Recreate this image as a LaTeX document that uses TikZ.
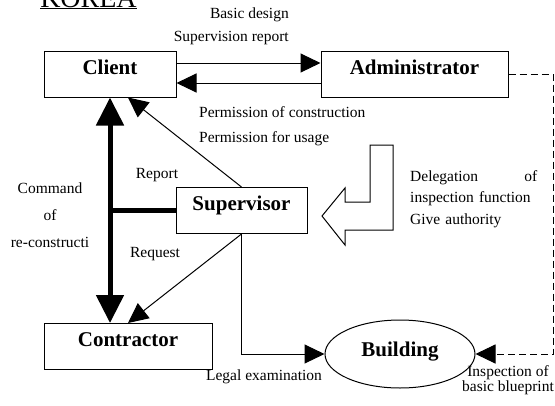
\documentclass[tikz,border=0pt]{standalone}
\usepackage{fontspec}
\setmainfont{Liberation Serif}
\usetikzlibrary{arrows.meta,shapes.geometric}
\tikzset{
  party/.style={draw, line width=1pt, inner sep=0pt, text height=23pt, text depth=23pt,
    font=\fontsize{21}{25}\selectfont\bfseries},
  note/.style={inner sep=0pt, font=\fontsize{15.5}{23}\selectfont},
  flow/.style={line width=1pt, -{Triangle[length=20pt,width=19pt]}},
  command/.style={line width=5pt, {Triangle[length=28pt,width=27pt]}-{Triangle[length=28pt,width=27pt]}},
}

\begin{document}
\begin{tikzpicture}[x=1pt,y=-1pt]
\clip (0,0) rectangle (555,405);

% Title
\node[anchor=base, inner sep=0pt, font=\fontsize{28}{30}\selectfont] (korea) at (88.5,7) {\underline{KOREA}};

% Parties
\node[party, minimum width=132pt] (client) at (110,74) {Client};
\node[party, minimum width=187pt] (admin) at (414.5,74) {Administrator};
\node[party, minimum width=131pt] (super) at (241.5,210.5) {Supervisor};
\node[party, minimum width=168pt] (contr) at (128,346.5) {Contractor};
\node[ellipse, draw, line width=1pt, inner sep=0pt, minimum width=150pt, minimum height=68pt,
  text height=12pt, text depth=8pt, font=\fontsize{21}{25}\selectfont\bfseries] (build) at (400,354) {Building};

% Client <-> Administrator
\draw[flow] ([yshift=11pt]client.east) -- ([yshift=11pt]admin.west);
\draw[flow] ([yshift=-9pt]admin.west) -- ([yshift=-9pt]client.east);
\node[note, align=right, anchor=east] (design) at (289,26) {Basic design\\Supervision report};
\node[note, align=left, anchor=west, font=\fontsize{15.5}{25}\selectfont] (permit) at (199,126) {Permission of construction\\Permission for usage};

% Supervisor links
\draw[flow] (super.north) -- ([xshift=18pt]client.south);
\draw[flow] (super.south) -- (contr.north);
\coordinate (cmd) at (110,210.5);
\draw[command] (client.south) -- ([xshift=-18pt]contr.north);
\draw[line width=5pt] (super.west) -- (cmd);
\node[note] (report) at (157,175) {Report};
\node[note] (request) at (155,254) {Request};
\node[note, align=center, font=\fontsize{15.5}{27}\selectfont] (recon) at (50,215) {Command\\of\\re-constructi};

% Legal examination
\draw[flow] (super.south) |- (build.west);
\node[note] (legal) at (264,377) {Legal examination};

% Delegation (hollow arrow)
\draw[line width=1pt] (370,145) -- (393,145) -- (393,230) -- (345,230) -- (345,245) -- (322,216)
  -- (345,188) -- (345,202) -- (370,202) -- cycle;
\node[note, align=left, text width=127pt, anchor=west, font=\fontsize{15.5}{21.5}\selectfont] (deleg) at (410,199)
  {Delegation\hfill of\\inspection function\\Give authority};

% Inspection of blueprint
\coordinate (rim) at (553,74);
\draw[flow, dash pattern=on 7pt off 4pt] (admin.east) -- (rim) |- (build.east);
\node[note, align=center, font=\fontsize{15.5}{15.5}\selectfont] (inspect) at (508,380) {Inspection of\\basic blueprint};
\end{tikzpicture}
\end{document}
